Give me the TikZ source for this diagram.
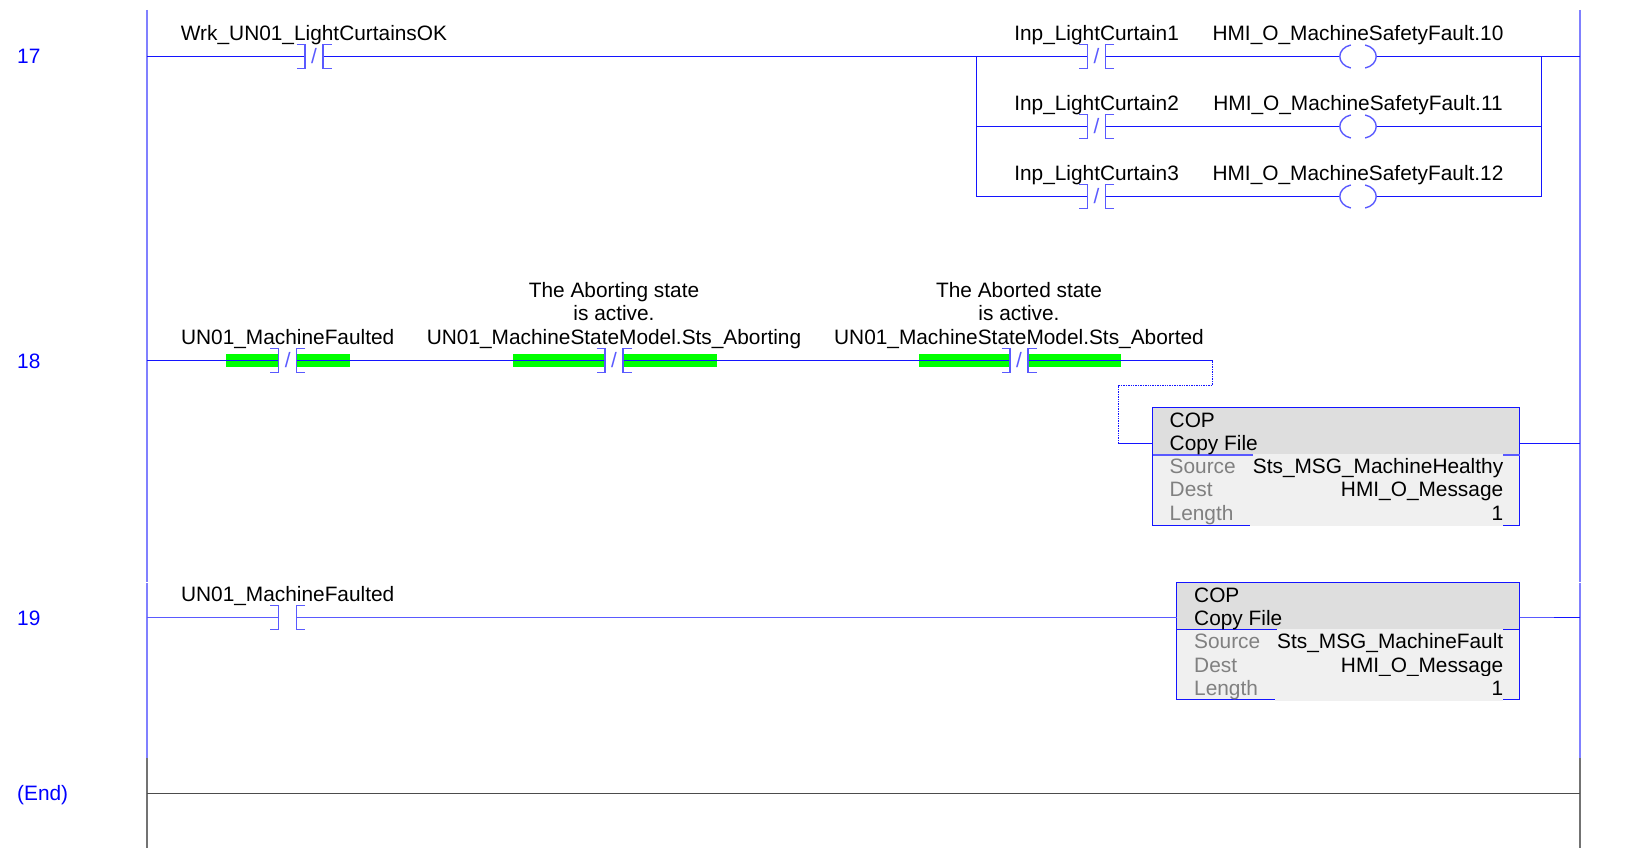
\documentclass[tikz,border=0pt]{standalone}
\usepackage{fontspec}
\setmainfont{Liberation Sans}
\usetikzlibrary{calc}
\definecolor{wireblue}{RGB}{20,20,255}
\definecolor{softblue}{RGB}{90,90,255}
\definecolor{railblue}{RGB}{128,128,255}
\definecolor{onGreen}{RGB}{0,255,0}
\definecolor{titleGray}{RGB}{222,222,222}
\definecolor{bodyGray}{RGB}{240,240,240}
\tikzset{
% Ladder parts: wires, rails and instruction symbols
wire/.style={draw=wireblue,line width=1},
softwire/.style={draw=softblue,line width=1.2},
dotwire/.style={draw=wireblue,line width=1.2,dash pattern=on 1pt off 0.7pt},
rail/.style={draw=railblue,line width=2},
endrail/.style={draw=black!55,line width=1.8},
bracket/.style={draw=softblue,line width=1.4},
contact/.style={inner sep=0,minimum width=17.6,minimum height=24,text=softblue,font=\fontsize{20.85}{23.4}\selectfont},
coil/.style={inner sep=0,minimum width=36,minimum height=24},
tag/.style={inner sep=0,anchor=base,font=\fontsize{20.85}{23.4}\selectfont},
rung/.style={inner sep=0,anchor=base west,text=blue,font=\fontsize{20.85}{23.4}\selectfont},
powered/.style={fill=onGreen},
copbody/.style={inner sep=0,anchor=north west,fill=bodyGray},
coptitle/.style={inner sep=0,anchor=north west,fill=titleGray},
copline/.style={draw=wireblue,line width=1},
copname/.style={tag,anchor=base west},
copfield/.style={tag,anchor=base west,text=black!50},
copvalue/.style={tag,anchor=base east,fill=bodyGray,text height=19.5,text depth=5}
}
\begin{document}
\begin{tikzpicture}[x=1pt,y=-1pt]
\useasboundingbox (0,0) rectangle (1628,848);
% Power rails
\draw[rail] (147,10) -- (147,581.5) (147,583) -- (147,758);
\draw[rail] (1580,10) -- (1580,581.5) (1580,583) -- (1580,758);
\draw[endrail] (147,758) -- (147,848);
\draw[endrail] (1580,758) -- (1580,848);
\coordinate (l17) at (147,56.5);
\coordinate (r17) at (1580,56.5);
\coordinate (l18) at (147,360.5);
\coordinate (r18) at (1580,443.5);
\coordinate (l19) at (147,617.5);
\coordinate (r19) at (1580,617.5);
\coordinate (lend) at (147,793.5);
\coordinate (rend) at (1580,793.5);
% Rung numbers
\node (n17) [rung] at (17,64) {17};
\node (n18) [rung] at (17,368) {18};
\node (n19) [rung] at (17,625.5) {19};
\node (nend) [rung] at (17,800.7) {(End)};
% Rung 17
\node (c17) [contact] at (314,56.5) {/};
\node (t17) [tag] at ($(c17)+(0,-15.6)$) {Wrk\_UN01\_LightCurtainsOK};
\foreach \r/\y/\num/\bit in {a/56.5/1/10,b/126.5/2/11,c/196.5/3/12}{
\coordinate (bl\r) at (976.5,\y);
\coordinate (br\r) at (1541.5,\y);
\node (ci\r) [contact] at (1096.6,\y) {/};
\node (co\r) [coil] at (1358,\y) {};
\node (ti\r) [tag] at ($(ci\r)+(0,-15.6)$) {Inp\_LightCurtain\num};
\node (to\r) [tag] at ($(co\r)+(0,-15.6)$) {HMI\_O\_MachineSafetyFault.\bit};
\draw[wire] (bl\r) -- (ci\r) -- (co\r) -- (br\r);
}
\draw[wire] (l17) -- (c17) -- (bla);
\draw[wire] (bla) -- (blc);
\draw[wire] (brc) -- (bra) -- (r17);
% Rung 18
\fill[powered] (226,354) rectangle (279,367);
\fill[powered] (296.5,354) rectangle (350,367);
\fill[powered] (513,354) rectangle (605.5,367);
\fill[powered] (623,354) rectangle (717,367);
\fill[powered] (919,354) rectangle (1010.5,367);
\fill[powered] (1028,354) rectangle (1120.5,367);
\node (c18a) [contact] at (287.7,360.5) {/};
\node (c18b) [contact] at (614,360.5) {/};
\node (c18c) [contact] at (1019,360.5) {/};
\node (t18a) [tag] at ($(c18a)+(0,-15.6)$) {UN01\_MachineFaulted};
\node (t18b) [tag] at ($(c18b)+(0,-15.6)$) {UN01\_MachineStateModel.Sts\_Aborting};
\node (t18c) [tag] at ($(c18c)+(0,-15.6)$) {UN01\_MachineStateModel.Sts\_Aborted};
\node (u18b) [tag] at ($(c18b)+(0,-39.8)$) {is active.};
\node (v18b) [tag] at ($(c18b)+(0,-63)$) {The Aborting state};
\node (u18c) [tag] at ($(c18c)+(0,-39.8)$) {is active.};
\node (v18c) [tag] at ($(c18c)+(0,-63)$) {The Aborted state};
\coordinate (w18a) at (1212.5,360.5);
\coordinate (w18b) at (1212.5,385.5);
\coordinate (w18c) at (1118.5,385.5);
\coordinate (w18d) at (1118.5,443.5);
\node (cop18) [copbody,minimum width=367,minimum height=118] at (1152.5,407.5) {};
\node (cop18t) [coptitle,minimum width=367,minimum height=47] at (cop18.north west) {};
\draw[copline] (cop18.north west) rectangle (cop18.south east);
\draw[softwire] (cop18t.south west) -- (cop18t.south east);
\draw[wire] (l18) -- (c18a) -- (c18b) -- (c18c) -- (w18a);
\draw[dotwire] (w18a) -- (w18b) -- (w18c) -- (w18d);
\draw[wire] (w18d) -- (w18d -| cop18.west);
\draw[wire] (r18 -| cop18.east) -- (r18);
\node (a18) [copname] at ($(cop18.north west)+(17,19.7)$) {COP};
\node (b18) [copname] at ($(cop18.north west)+(17,43)$) {Copy File};
\node (f18a) [copfield] at ($(cop18.north west)+(17,65.6)$) {Source};
\node (f18b) [copfield] at ($(cop18.north west)+(17,89.1)$) {Dest};
\node (f18c) [copfield] at ($(cop18.north west)+(17,113.2)$) {Length};
\node (g18a) [copvalue] at ($(cop18.north east)+(-16.5,65.6)$) {Sts\_MSG\_MachineHealthy};
\node (g18b) [copvalue,fill=none] at ($(cop18.north east)+(-16.5,89.1)$) {HMI\_O\_Message};
\node (g18c) [copvalue,text width=253,align=right,fill=bodyGray] at ($(cop18.north east)+(-16.5,113.2)$) {1};
% Rung 19
\node (c19) [contact] at (287.7,617.5) {};
\node (t19) [tag] at ($(c19)+(0,-15.6)$) {UN01\_MachineFaulted};
\node (cop19) [copbody,minimum width=343,minimum height=117] at (1176.5,582.5) {};
\node (cop19t) [coptitle,minimum width=343,minimum height=47] at (cop19.north west) {};
\draw[copline] (cop19.north west) rectangle (cop19.south east);
\draw[copline] (cop19t.south west) -- (cop19t.south east);
\draw[softwire] (l19) -- (c19) -- (l19 -| cop19.west);
\draw[softwire] (r19 -| cop19.east) -- (r19);
\coordinate (w19) at (1554,617.5);
\draw[wire] (w19) -- (r19);
\node (a19) [copname] at ($(cop19.north west)+(17.5,20)$) {COP};
\node (b19) [copname] at ($(cop19.north west)+(17.5,42.5)$) {Copy File};
\node (f19a) [copfield] at ($(cop19.north west)+(17.5,65.8)$) {Source};
\node (f19b) [copfield] at ($(cop19.north west)+(17.5,89.8)$) {Dest};
\node (f19c) [copfield] at ($(cop19.north west)+(17.5,113.2)$) {Length};
\node (g19a) [copvalue] at ($(cop19.north east)+(-16.5,65.8)$) {Sts\_MSG\_MachineFault};
\node (g19b) [copvalue,fill=none] at ($(cop19.north east)+(-16.5,89.8)$) {HMI\_O\_Message};
\node (g19c) [copvalue,text width=228,align=right] at ($(cop19.north east)+(-16.5,113.2)$) {1};
% End rung
\draw[draw=black!70,line width=1.2] (lend) -- (rend);
% Contact brackets and coil arcs
\foreach \c in {c17,cia,cib,cic,c18a,c18b,c18c,c19}{
\draw[bracket] ($(\c.north west)+(-8.5,0)$) -- (\c.north west) -- (\c.south west) -- +(-8.5,0);
\draw[bracket] ($(\c.north east)+(8.5,0)$) -- (\c.north east) -- (\c.south east) -- +(8.5,0);
}
\foreach \c in {coa,cob,coc}{
\draw[bracket] ($(\c.west)+(11,-11.5)$) .. controls ($(\c.west)+(4,-10)$) and ($(\c.west)+(0,-5)$) .. (\c.west) .. controls ($(\c.west)+(0,5)$) and ($(\c.west)+(4,10)$) .. ($(\c.west)+(11,11.5)$);
\draw[bracket] ($(\c.east)+(-11,-11.5)$) .. controls ($(\c.east)+(-4,-10)$) and ($(\c.east)+(0,-5)$) .. (\c.east) .. controls ($(\c.east)+(0,5)$) and ($(\c.east)+(-4,10)$) .. ($(\c.east)+(-11,11.5)$);
}
\end{tikzpicture}
\end{document}
